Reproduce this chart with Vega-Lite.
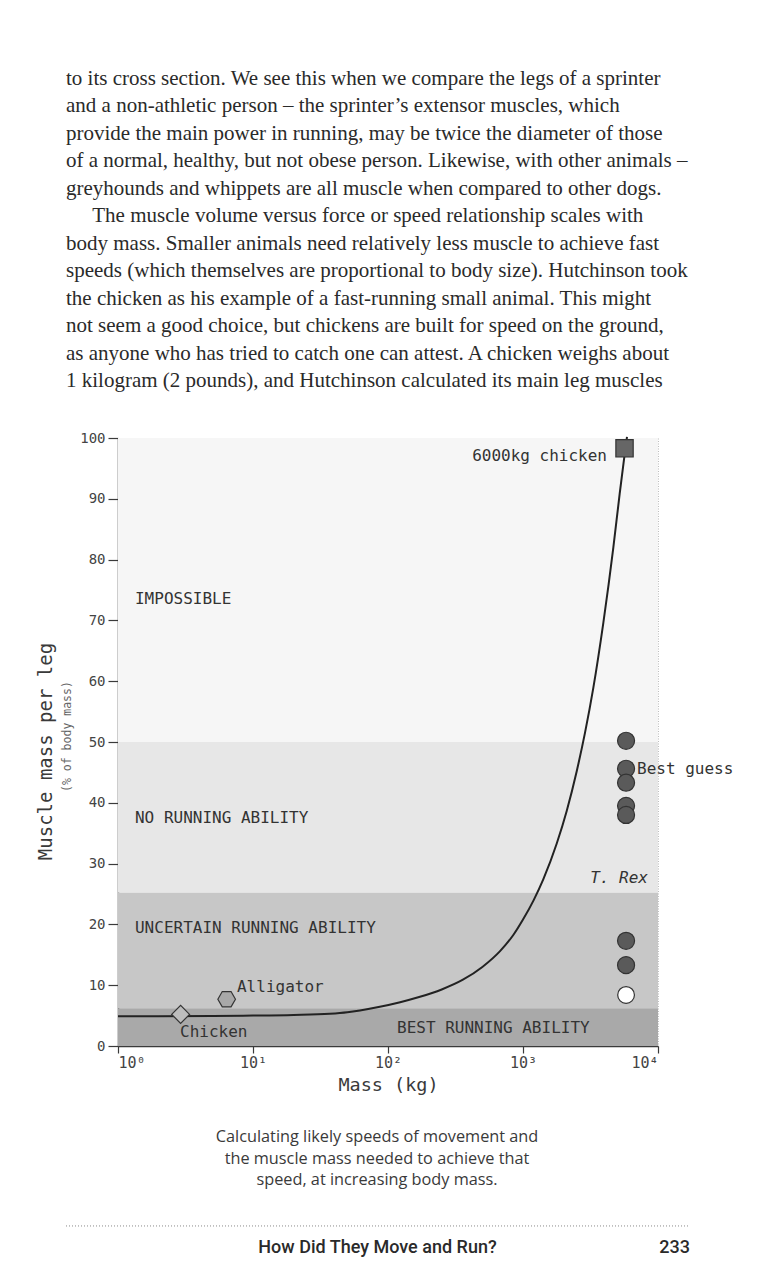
{
  "$schema": "https://vega.github.io/schema/vega-lite/v6.json",
  "width": 540,
  "height": 608,
  "autosize": {"type": "none"},
  "padding": {"left": 118, "top": 438, "right": 107, "bottom": 234},
  "background": "white",
  "title": {
    "text": [
      "to its cross section. We see this when we compare the legs of a sprinter",
      "and a non-athletic person – the sprinter’s extensor muscles, which",
      "provide the main power in running, may be twice the diameter of those",
      "of a normal, healthy, but not obese person. Likewise, with other animals –",
      "greyhounds and whippets are all muscle when compared to other dogs.",
      "\u200b\u00a0\u00a0\u00a0\u00a0\u00a0The muscle volume versus force or speed relationship scales with",
      "body mass. Smaller animals need relatively less muscle to achieve fast",
      "speeds (which themselves are proportional to body size). Hutchinson took",
      "the chicken as his example of a fast-running small animal. This might",
      "not seem a good choice, but chickens are built for speed on the ground,",
      "as anyone who has tried to catch one can attest. A chicken weighs about",
      "1 kilogram (2 pounds), and Hutchinson calculated its main leg muscles"
    ],
    "anchor": "start",
    "frame": "group",
    "dx": -52,
    "offset": 40,
    "font": "Liberation Serif",
    "fontSize": 21,
    "fontWeight": "normal",
    "lineHeight": 27.5,
    "color": "#2a2a2a"
  },
  "config": {
    "view": {"stroke": "#bdbdbd", "strokeDash": [1, 1.5], "strokeWidth": 1},
    "axis": {
      "grid": false,
      "domainColor": "#3a3a3a",
      "domainWidth": 1.5,
      "tickColor": "#3a3a3a",
      "tickWidth": 1.2,
      "tickSize": 8,
      "labelFont": "DejaVu Sans Mono",
      "labelFontSize": 14,
      "labelColor": "#444444",
      "titleFont": "DejaVu Sans Mono",
      "titleFontWeight": "normal",
      "titleColor": "#3a3a3a"
    }
  },
  "datasets": {
    "bands": [
      {"zone": "Impossible", "lo": 50, "hi": 100},
      {"zone": "No running ability", "lo": 25.2, "hi": 50},
      {"zone": "Uncertain running ability", "lo": 6.2, "hi": 25.2},
      {"zone": "Best running ability", "lo": 0, "hi": 6.2}
    ],
    "curve": [
      {"mass": 1, "pct": 4.9},
      {"mass": 5, "pct": 4.95},
      {"mass": 10, "pct": 5.0},
      {"mass": 20, "pct": 5.1},
      {"mass": 37, "pct": 5.3},
      {"mass": 50, "pct": 5.55},
      {"mass": 62, "pct": 5.85},
      {"mass": 87, "pct": 6.45},
      {"mass": 123, "pct": 7.2},
      {"mass": 170, "pct": 8.05},
      {"mass": 250, "pct": 9.3},
      {"mass": 359, "pct": 10.9},
      {"mass": 500, "pct": 13.0},
      {"mass": 676, "pct": 15.6},
      {"mass": 850, "pct": 18.3},
      {"mass": 1000, "pct": 20.8},
      {"mass": 1200, "pct": 24.0},
      {"mass": 1413, "pct": 27.4},
      {"mass": 1778, "pct": 33.3},
      {"mass": 2110, "pct": 38.7},
      {"mass": 2500, "pct": 45.2},
      {"mass": 2878, "pct": 51.5},
      {"mass": 3318, "pct": 58.9},
      {"mass": 3936, "pct": 69.6},
      {"mass": 4670, "pct": 82.0},
      {"mass": 5200, "pct": 90.8},
      {"mass": 5698, "pct": 97.8},
      {"mass": 5893, "pct": 100.2}
    ],
    "markers": [
      {"animal": "Chicken", "mass": 2.91, "pct": 5.2},
      {"animal": "Alligator", "mass": 6.38, "pct": 7.7},
      {"animal": "6000kg chicken", "mass": 5650, "pct": 98.3},
      {"animal": "T. Rex", "mass": 5800, "pct": 50.2},
      {"animal": "T. Rex", "mass": 5800, "pct": 45.6},
      {"animal": "T. Rex", "mass": 5800, "pct": 43.3},
      {"animal": "T. Rex", "mass": 5800, "pct": 39.5},
      {"animal": "T. Rex", "mass": 5800, "pct": 38.0},
      {"animal": "T. Rex", "mass": 5800, "pct": 17.3},
      {"animal": "T. Rex", "mass": 5800, "pct": 13.3},
      {"animal": "T. Rex (lowest)", "mass": 5800, "pct": 8.4}
    ],
    "labelsLeft": [
      {"label": "IMPOSSIBLE", "mass": 1.336, "pct": 73.6},
      {"label": "NO RUNNING ABILITY", "mass": 1.336, "pct": 37.5},
      {"label": "UNCERTAIN RUNNING ABILITY", "mass": 1.336, "pct": 19.4},
      {"label": "BEST RUNNING ABILITY", "mass": 116.6, "pct": 2.96},
      {"label": "Alligator", "mass": 7.61, "pct": 9.7},
      {"label": "Chicken", "mass": 2.88, "pct": 2.3},
      {"label": "Best guess", "mass": 6989, "pct": 45.6}
    ],
    "labelsRight": [
      {"label": "6000kg chicken", "mass": 4190, "pct": 97.1}
    ],
    "labelsItalic": [
      {"label": "T. Rex", "mass": 8430, "pct": 27.6}
    ]
  },
  "layer": [
    {
      "data": {"name": "bands"},
      "mark": {"type": "rect"},
      "encoding": {
        "x": {"datum": 1, "type": "quantitative"},
        "x2": {"datum": 10000},
        "y": {"field": "lo", "type": "quantitative"},
        "y2": {"field": "hi"},
        "color": {
          "field": "zone",
          "type": "nominal",
          "scale": {
            "domain": ["Impossible", "No running ability", "Uncertain running ability", "Best running ability"],
            "range": ["#f6f6f6", "#e7e7e7", "#c7c7c7", "#a9a9a9"]
          },
          "legend": null
        }
      }
    },
    {
      "data": {"name": "labelsLeft"},
      "mark": {"type": "text", "align": "left", "baseline": "middle", "font": "DejaVu Sans Mono", "fontSize": 16, "color": "#333333"},
      "encoding": {
        "x": {"field": "mass", "type": "quantitative"},
        "y": {"field": "pct", "type": "quantitative"},
        "text": {"field": "label"}
      }
    },
    {
      "data": {"name": "labelsRight"},
      "mark": {"type": "text", "align": "right", "baseline": "middle", "font": "DejaVu Sans Mono", "fontSize": 16, "color": "#333333"},
      "encoding": {
        "x": {"field": "mass", "type": "quantitative"},
        "y": {"field": "pct", "type": "quantitative"},
        "text": {"field": "label"}
      }
    },
    {
      "data": {"name": "labelsItalic"},
      "mark": {"type": "text", "align": "right", "baseline": "middle", "font": "DejaVu Sans Mono", "fontSize": 16, "fontStyle": "italic", "color": "#333333"},
      "encoding": {
        "x": {"field": "mass", "type": "quantitative"},
        "y": {"field": "pct", "type": "quantitative"},
        "text": {"field": "label"}
      }
    },
    {
      "data": {"name": "curve"},
      "mark": {"type": "line", "color": "#222222", "strokeWidth": 2, "interpolate": "monotone"},
      "encoding": {
        "x": {
          "field": "mass",
          "type": "quantitative",
          "scale": {"type": "log", "domain": [1, 10000], "nice": false},
          "axis": {
            "title": "Mass (kg)",
            "titleFontSize": 18.5,
            "titlePadding": 5,
            "values": [1, 10, 100, 1000, 10000],
            "labelExpr": "datum.value == 1 ? '10⁰' : datum.value == 10 ? '10¹' : datum.value == 100 ? '10²' : datum.value == 1000 ? '10³' : '10⁴'",
            "labelFontSize": 15,
            "labelPadding": 2,
            "tickSize": 7
          }
        },
        "y": {
          "field": "pct",
          "type": "quantitative",
          "scale": {"domain": [0, 100], "nice": false},
          "axis": {
            "title": "Muscle mass per leg",
            "titleFontSize": 19,
            "titlePadding": 24,
            "titleY": 313,
            "values": [0, 10, 20, 30, 40, 50, 60, 70, 80, 90, 100],
            "labelPadding": 3,
            "tickSize": 10
          }
        }
      }
    },
    {
      "data": {"name": "markers"},
      "mark": {"type": "point", "filled": true, "stroke": "#333333", "strokeWidth": 1.2, "opacity": 1},
      "encoding": {
        "x": {"field": "mass", "type": "quantitative"},
        "y": {"field": "pct", "type": "quantitative"},
        "shape": {
          "field": "animal",
          "type": "nominal",
          "scale": {
            "domain": ["Chicken", "Alligator", "6000kg chicken", "T. Rex", "T. Rex (lowest)"],
            "range": ["diamond", "M-1,0L-0.5,-0.866L0.5,-0.866L1,0L0.5,0.866L-0.5,0.866Z", "square", "circle", "circle"]
          },
          "legend": null
        },
        "fill": {
          "field": "animal",
          "type": "nominal",
          "scale": {
            "domain": ["Chicken", "Alligator", "6000kg chicken", "T. Rex", "T. Rex (lowest)"],
            "range": ["#bdbdbd", "#a8a8a8", "#666666", "#5a5a5a", "#ffffff"]
          },
          "legend": null
        },
        "size": {
          "field": "animal",
          "type": "nominal",
          "scale": {
            "domain": ["Chicken", "Alligator", "6000kg chicken", "T. Rex", "T. Rex (lowest)"],
            "range": [320, 280, 130, 135, 135]
          },
          "legend": null
        }
      }
    },
    {
      "data": {"values": [{"note": "(% of body mass)"}]},
      "mark": {"type": "text", "angle": 270, "align": "center", "baseline": "middle", "font": "DejaVu Sans Mono", "fontSize": 11.5, "color": "#666666"},
      "encoding": {
        "x": {"datum": 0.426, "type": "quantitative"},
        "y": {"datum": 50.9, "type": "quantitative"},
        "text": {"field": "note"}
      }
    },
    {
      "data": {"values": [{"caption": ["Calculating likely speeds of movement and", "the muscle mass needed to achieve that", "speed, at increasing body mass."]}]},
      "mark": {"type": "text", "align": "center", "baseline": "middle", "font": "Open Sans", "fontSize": 16.3, "lineHeight": 21.5, "color": "#3a3a3a"},
      "encoding": {
        "x": {"datum": 82.9, "type": "quantitative"},
        "y": {"datum": -14.97, "type": "quantitative"},
        "text": {"field": "caption"}
      }
    },
    {
      "data": {"values": [{"from": 0.412, "to": 17260, "at": -29.6}]},
      "mark": {"type": "rule", "color": "#8a8a8a", "strokeWidth": 1, "strokeDash": [1, 2]},
      "encoding": {
        "x": {"field": "from", "type": "quantitative"},
        "x2": {"field": "to"},
        "y": {"field": "at", "type": "quantitative"}
      }
    },
    {
      "data": {"values": [{"footer": "How Did They Move and Run?"}]},
      "mark": {"type": "text", "align": "center", "baseline": "middle", "font": "Roboto", "fontWeight": 500, "fontSize": 18, "color": "#2a2a2a"},
      "encoding": {
        "x": {"datum": 83.6, "type": "quantitative"},
        "y": {"datum": -33.2, "type": "quantitative"},
        "text": {"field": "footer"}
      }
    },
    {
      "data": {"values": [{"page": "233"}]},
      "mark": {"type": "text", "align": "right", "baseline": "middle", "font": "Roboto", "fontWeight": 500, "fontSize": 18, "color": "#2a2a2a"},
      "encoding": {
        "x": {"datum": 17260, "type": "quantitative"},
        "y": {"datum": -33.2, "type": "quantitative"},
        "text": {"field": "page"}
      }
    }
  ]
}
